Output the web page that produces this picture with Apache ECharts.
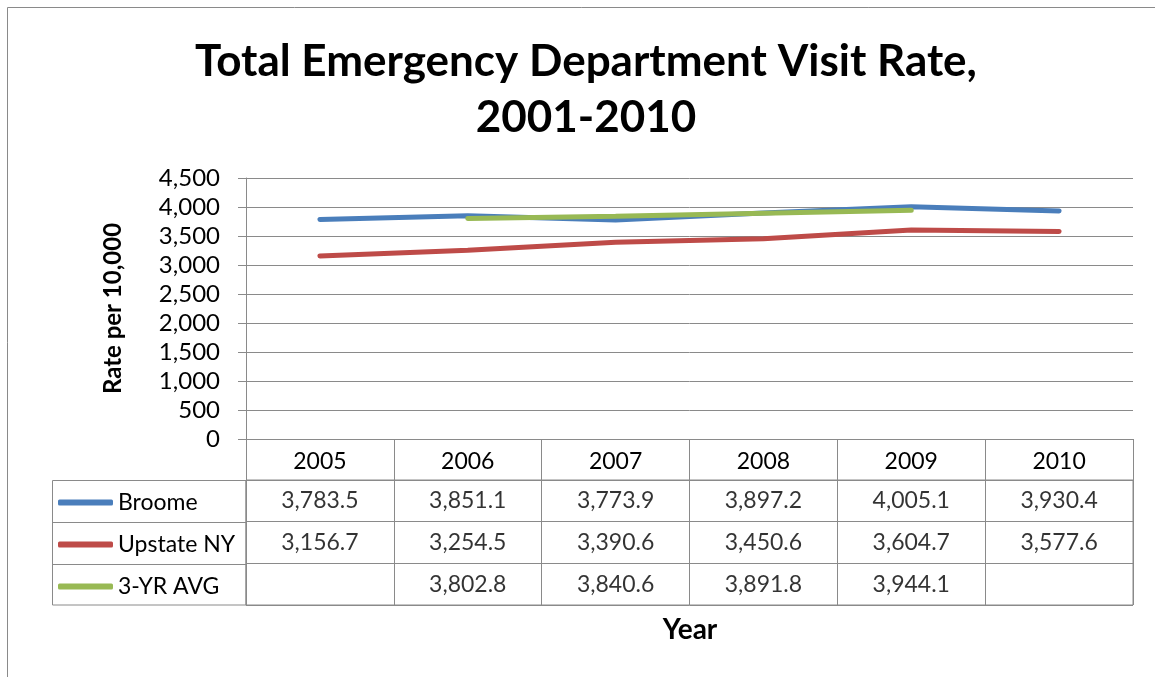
<!DOCTYPE html>
<html><head><meta charset="utf-8">
<script src="https://cdn.jsdelivr.net/npm/echarts@6/dist/echarts.min.js"></script>
<style>html,body{margin:0;padding:0;background:#fff}#c{width:1155px;height:677px}</style>
</head><body><div id="c"></div>
<script>
const years = ['2005','2006','2007','2008','2009','2010'];
const broome = [3783.5, 3851.1, 3773.9, 3897.2, 4005.1, 3930.4];
const upstate = [3156.7, 3254.5, 3390.6, 3450.6, 3604.7, 3577.6];
const avg3 = [null, 3802.8, 3840.6, 3891.8, 3944.1, null];
const seriesNames = ['Broome', 'Upstate NY', '3-YR AVG'];
const colors = ['#4A7EBB', '#BE4B48', '#98B954'];
const yTicks = [0, 500, 1000, 1500, 2000, 2500, 3000, 3500, 4000, 4500];

const FONT = 'Lato, "Open Sans", sans-serif';
const GRID_C = '#8a8a8a';
const fmt = v => v.toLocaleString('en-US', {minimumFractionDigits: 1, maximumFractionDigits: 1});

const allRows = [broome, upstate, avg3];
const cellData = [];
allRows.forEach((row, r) => row.forEach((v, c) => { if (v != null) cellData.push([c, r, v]); }));

const chart = echarts.init(document.getElementById('c'));
chart.setOption({
  animation: false,
  backgroundColor: '#fff',
  grid: [
    {left: 246, top: 178, width: 887, height: 261},
    {left: 246, top: 480, width: 887, height: 125, show: true, borderColor: GRID_C, borderWidth: 1, backgroundColor: 'transparent'}
  ],
  legend: {
    data: seriesNames, orient: 'vertical', left: 53, top: 486,
    icon: 'roundRect', itemWidth: 55, itemHeight: 6, itemGap: 19,
    textStyle: {fontFamily: FONT, fontSize: 23, color: '#000', lineHeight: 23, padding: [0,0,0,0]},
    selectedMode: false
  },
  xAxis: [
    {type: 'category', gridIndex: 0, data: years, boundaryGap: true,
     axisLine: {lineStyle: {color: GRID_C}},
     axisTick: {show: true, length: 41, lineStyle: {color: GRID_C}},
     axisLabel: {interval: 0, margin: 11, fontFamily: FONT, fontSize: 23, color: '#000'}},
    {type: 'category', gridIndex: 1, data: years, boundaryGap: true,
     axisLine: {show: false}, axisTick: {show: false}, axisLabel: {show: false, interval: 0},
     splitLine: {show: true, interval: 0, lineStyle: {color: GRID_C}}}
  ],
  yAxis: [
    {type: 'value', gridIndex: 0, min: 0, max: 4500, interval: 500,
     name: 'Rate per 10,000', nameLocation: 'middle', nameGap: 121,
     nameTextStyle: {fontFamily: FONT, fontSize: 24, fontWeight: 'bold', color: '#000'},
     axisLine: {show: true, lineStyle: {color: GRID_C}},
     axisTick: {show: true, length: 8, lineStyle: {color: GRID_C}},
     axisLabel: {margin: 26, fontFamily: FONT, fontSize: 24, color: '#000',
                 formatter: v => v.toLocaleString('en-US')},
     splitLine: {show: true, lineStyle: {color: GRID_C, width: 1}}},
    {type: 'category', gridIndex: 1, data: seriesNames, inverse: true,
     axisLine: {show: false}, axisTick: {show: false}, axisLabel: {show: false},
     splitLine: {show: true, lineStyle: {color: GRID_C}}}
  ],
  series: [
    {name: seriesNames[0], type: 'line', data: broome, symbol: 'none', lineStyle: {width: 5, color: colors[0], cap: 'round'}, itemStyle: {color: colors[0]}, z: 3},
    {name: seriesNames[1], type: 'line', data: upstate, symbol: 'none', lineStyle: {width: 5, color: colors[1], cap: 'round'}, itemStyle: {color: colors[1]}, z: 3},
    {name: seriesNames[2], type: 'line', data: avg3, symbol: 'none', lineStyle: {width: 5, color: colors[2], cap: 'round'}, itemStyle: {color: colors[2]}, z: 4},
    {name: 'table', type: 'scatter', xAxisIndex: 1, yAxisIndex: 1, data: cellData,
     symbolSize: 1, itemStyle: {color: 'rgba(0,0,0,0)'}, silent: true,
     label: {show: true, position: 'inside', fontFamily: FONT, fontSize: 23, color: '#000',
             formatter: p => fmt(p.value[2])}}
  ],
  graphic: [
    {type: 'rect', shape: {x: 7.5, y: 7.5, width: 1160, height: 690}, style: {fill: null, stroke: '#8a8a8a', lineWidth: 1}, silent: true},
    {type: 'rect', shape: {x: 52.5, y: 480.5, width: 193.5, height: 124.5}, style: {fill: null, stroke: GRID_C, lineWidth: 1}, silent: true},
    {type: 'line', shape: {x1: 52, y1: 522.5, x2: 246, y2: 522.5}, style: {stroke: GRID_C, lineWidth: 1}, silent: true},
    {type: 'line', shape: {x1: 52, y1: 564.5, x2: 246, y2: 564.5}, style: {stroke: GRID_C, lineWidth: 1}, silent: true},
    {type: 'text', x: 586, y: 62, style: {text: 'Total Emergency Department Visit Rate,', fontFamily: FONT, fontSize: 44, fontWeight: 'bold', fill: '#000', textAlign: 'center', textVerticalAlign: 'middle'}},
    {type: 'text', x: 586, y: 118, style: {text: '2001-2010', fontFamily: FONT, fontSize: 44, fontWeight: 'bold', fill: '#000', textAlign: 'center', textVerticalAlign: 'middle'}},
    {type: 'text', x: 690, y: 630, style: {text: 'Year', fontFamily: FONT, fontSize: 28, fontWeight: 'bold', fill: '#000', textAlign: 'center', textVerticalAlign: 'middle'}}
  ]
});
</script></body></html>
